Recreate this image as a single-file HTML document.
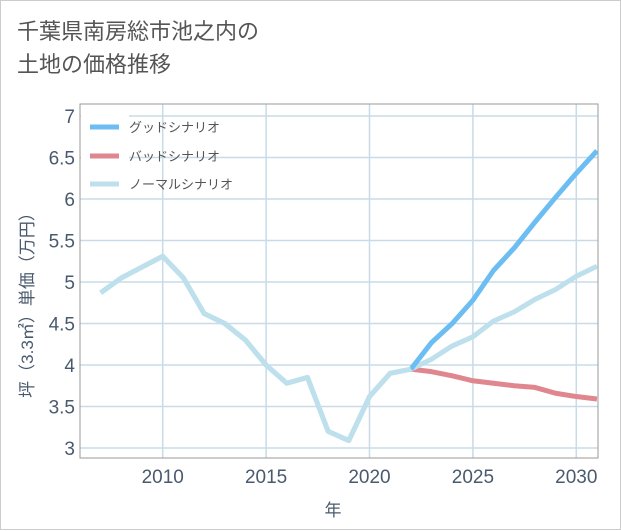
<!DOCTYPE html>
<html><head><meta charset="utf-8"><style>
body{margin:0;background:#fff;}
#wrap{position:relative;width:619px;height:528px;border:1px solid #ccc;background:#fff;font-family:"Liberation Sans","Noto Sans CJK JP",sans-serif;}
#title{position:absolute;left:16px;top:14px;font-size:22px;line-height:33px;color:#555;}
svg{position:absolute;left:0;top:0;}
</style></head><body>
<div id="wrap">
<div id="title">千葉県南房総市池之内の<br>土地の価格推移</div>
<svg id="chart" width="621" height="530"></svg>
</div>
<script>
const years=[2007,2008,2009,2010,2011,2012,2013,2014,2015,2016,2017,2018,2019,2020,2021,2022,2023,2024,2025,2026,2027,2028,2029,2030,2031];
const normalVals=[4.87,5.05,5.18,5.31,5.05,4.62,4.5,4.3,4.0,3.78,3.85,3.2,3.09,3.62,3.9,3.95,4.07,4.23,4.34,4.53,4.64,4.79,4.91,5.07,5.19];
const futureYears=[2022,2023,2024,2025,2026,2027,2028,2029,2030,2031];
const goodVals=[3.95,4.27,4.5,4.78,5.14,5.41,5.72,6.02,6.31,6.58];
const badVals=[3.95,3.92,3.87,3.81,3.78,3.75,3.73,3.66,3.62,3.59];
const yTicks=[3,3.5,4,4.5,5,5.5,6,6.5,7];
const xTicks=[2010,2015,2020,2025,2030];
const L=79,R=597,T=103,B=457;
const X=y=>L+(y-2006)*(R-L)/25.05;
const Y=v=>447-(v-3)*83;
const svg=document.getElementById('chart');
const NS='http://www.w3.org/2000/svg';
function mk(t,a){const e=document.createElementNS(NS,t);for(const k in a)e.setAttribute(k,a[k]);svg.appendChild(e);return e;}
yTicks.forEach(v=>{
 const l=mk('line',{x1:L,x2:R,y1:Y(v),y2:Y(v),stroke:'#c9dbe8','stroke-width':1.5});
 
 
 const t=mk('text',{x:L-5,y:Y(v)+7,'text-anchor':'end','font-size':19,fill:'#4a5a6e'});
 t.textContent=v;
 
 
});
const leg=[['グッドシナリオ','#6cbdf2',126],['バッドシナリオ','#e0868e',155],['ノーマルシナリオ','#bde0ec',183]];
leg.forEach(([n,c,y])=>{
 const bg=mk('rect',{x:80,y:y-12,width:48,height:24,fill:'#fff'});
 
 
});
xTicks.forEach(v=>{
 const l=mk('line',{x1:X(v),x2:X(v),y1:T,y2:B,stroke:'#c9dbe8','stroke-width':1.5});
 
 
 const t=mk('text',{x:X(v),y:B+25,'text-anchor':'middle','font-size':19,fill:'#4a5a6e'});
 t.textContent=v;
 
 
});
const box=mk('path',{d:`M${L},${T}H${R}V${B}H${L}Z`,fill:'none',stroke:'#999','stroke-width':1});


function line(xs,vs,c,name){
 const p=mk('polyline',{points:xs.map((x,i)=>X(x)+','+Y(vs[i])).join(' '),fill:'none',stroke:c,'stroke-width':5,'stroke-linejoin':'round'});
 
 
}
line(futureYears,badVals,'#e0868e','bad-scenario-line');
line(years,normalVals,'#bde0ec','normal-scenario-line');
line(futureYears,goodVals,'#6cbdf2','good-scenario-line');
line(years.slice(0,16),normalVals.slice(0,16),'#bde0ec','normal-history-line');
leg.forEach(([n,c,y])=>{
 const s=mk('line',{x1:89,x2:118,y1:y,y2:y,stroke:c,'stroke-width':5});
 
 
 const t=mk('text',{x:128,y:y+5,'font-size':13,fill:'#555'});
 t.textContent=n;
 
 
});
const yt=mk('text',{x:0,y:0,'font-size':17,fill:'#4a5a6e','text-anchor':'middle',transform:'translate(32,300) rotate(-90)'});
yt.textContent='坪（3.3㎡）単価（万円）';


const xt=mk('text',{x:332,y:515,'font-size':17,fill:'#4a5a6e','text-anchor':'middle'});
xt.textContent='年';


</script>
</body></html>
